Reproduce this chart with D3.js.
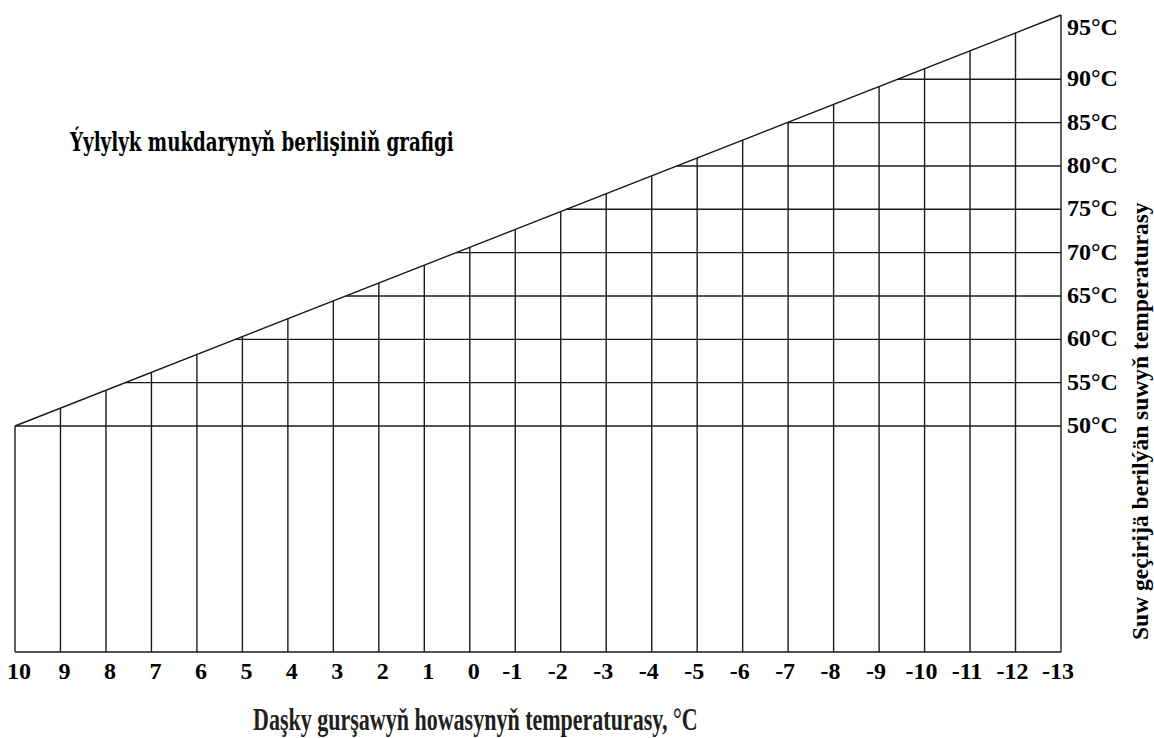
<!DOCTYPE html>
<html>
<head>
<meta charset="utf-8">
<script src="https://cdn.jsdelivr.net/npm/d3@7/dist/d3.min.js"></script>
<style>
  html, body { margin: 0; padding: 0; background: #fff; }
  svg { display: block; }
  text { font-family: "Liberation Serif", "Times New Roman", serif; font-weight: bold; fill: #000; }
</style>
</head>
<body>
<svg id="chart" width="1154" height="738"></svg>
<script>
// ---- data ----
const outdoorTemps = [10, 9, 8, 7, 6, 5, 4, 3, 2, 1, 0, -1, -2, -3, -4, -5, -6, -7, -8, -9, -10, -11, -12, -13];
const supplyTicks = [50, 55, 60, 65, 70, 75, 80, 85, 90, 95];
const supplyLabels = ["50°C", "55°C", "60°C", "65°C", "70°C", "75°C", "80°C", "85°C", "90°C", "95°C"];
const curveOutdoor = [10, -13];
const curveSupply = [50, 95];
const titleText = "Ýylylyk mukdarynyň berlişiniň grafigi";
const xTitleText = "Daşky gurşawyň howasynyň temperaturasy, °C";
const yTitleText = "Suw geçirijä berilýän suwyň temperaturasy";

// ---- layout ----
const left = 15, right = 1061, bottom = 652;
const svg = d3.select("#chart");

const x = d3.scaleLinear().domain([10, -13]).range([left, right]);
const y = d3.scaleLinear().domain([50, 90, 95]).range([426, 79.3, 15]);

const stroke = "#1a1a1a", sw = 1.4;

// diagonal endpoints in pixel space
const p0 = [x(curveOutdoor[0]), y(curveSupply[0])];
const p1 = [x(curveOutdoor[1]), y(curveSupply[1])];
const diagYAt = px => p0[1] + (px - p0[0]) / (p1[0] - p0[0]) * (p1[1] - p0[1]);
const diagXAt = py => p0[0] + (py - p0[1]) / (p1[1] - p0[1]) * (p1[0] - p0[0]);

const g = svg.append("g");

// vertical lines from bottom up to the curve
g.selectAll("line.v").data(outdoorTemps).join("line")
  .attr("class", "v")
  .attr("x1", d => x(d)).attr("x2", d => x(d))
  .attr("y1", bottom).attr("y2", d => diagYAt(x(d)))
  .attr("stroke", stroke).attr("stroke-width", sw);

// horizontal lines from curve to right edge
g.selectAll("line.h").data(supplyTicks.filter(v => v < curveSupply[1])).join("line")
  .attr("class", "h")
  .attr("x1", d => diagXAt(y(d))).attr("x2", right)
  .attr("y1", d => y(d)).attr("y2", d => y(d))
  .attr("stroke", stroke).attr("stroke-width", sw);

// bottom line
g.append("line")
  .attr("x1", x(outdoorTemps[0])).attr("x2", x(outdoorTemps[outdoorTemps.length - 1]))
  .attr("y1", bottom).attr("y2", bottom)
  .attr("stroke", stroke).attr("stroke-width", sw);

// diagonal curve
g.append("path")
  .datum(curveOutdoor.map((o, i) => [o, curveSupply[i]]))
  .attr("d", d3.line().x(d => x(d[0])).y(d => y(d[1])))
  .attr("fill", "none").attr("stroke", stroke).attr("stroke-width", sw);

// x tick labels
svg.selectAll("text.xt").data(outdoorTemps).join("text")
  .attr("class", "xt")
  .attr("x", d => x(d) + (d < 0 ? -3 : 4))
  .attr("y", 679)
  .attr("text-anchor", "middle")
  .attr("font-size", 24)
  .text(d => String(d));

// y labels on right
svg.selectAll("text.yt").data(supplyTicks).join("text")
  .attr("class", "yt")
  .attr("x", 1067)
  .attr("y", (d, i) => y(d) + (d === curveSupply[1] ? 20 : 7))
  .attr("font-size", 24)
  .text((d, i) => supplyLabels[i]);

function fit(sel, targetWidth) {
  return targetWidth / sel.node().getComputedTextLength();
}

// chart title
const titleFont = '"DejaVu Serif", serif';
const t = svg.append("text")
  .style("font-family", titleFont)
  .attr("font-size", 26)
  .text(titleText);
const probe = svg.append("text").style("font-family", titleFont).attr("font-size", 26).text("Ýylylyk mukdarynyň berlişin");
const sx = fit(probe, 290);
probe.remove();
t.attr("transform", `translate(70,151) scale(${sx},1)`);

// x axis title
const xt = svg.append("text")
  .attr("font-size", 32)
  .style("fill", "#231f20")
  .text(xTitleText);
const sxx = fit(xt, 445);
xt.attr("transform", `translate(253,730) scale(${sxx},1)`);

// y axis title (rotated)
const yt = svg.append("text")
  .attr("font-size", 23)
  .text(yTitleText);
const syy = fit(yt, 438);
yt.attr("transform", `translate(1148,640) rotate(-90) scale(${syy},1)`);
</script>
</body>
</html>
